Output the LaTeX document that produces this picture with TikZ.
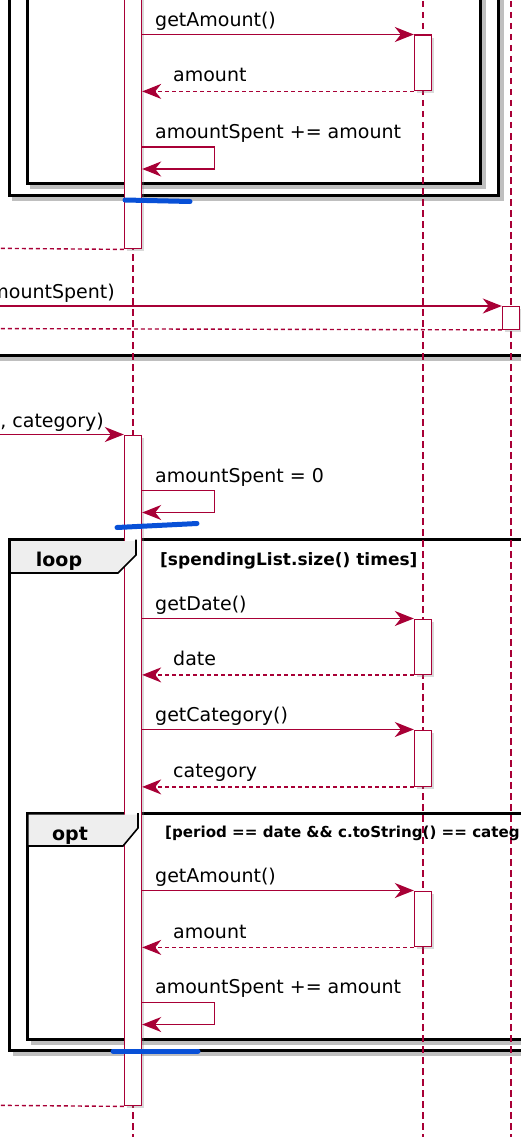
\documentclass[tikz,border=0pt]{standalone}
\usepackage{fontspec}
\setmainfont{DejaVu Sans}
\usetikzlibrary{arrows.meta,shadows}
\definecolor{seqred}{HTML}{A80036}
\definecolor{tabgray}{HTML}{EEEEEE}
\definecolor{markblue}{RGB}{8,80,215}
\begin{document}
\begin{tikzpicture}[x=1pt,y=-1pt,
	msg/.style={seqred,line width=1.4pt,-{Stealth[length=19pt,width=15pt,inset=6pt]}},
	ret/.style={msg,dash pattern=on 4pt off 3pt},
	life/.style={seqred,line width=1.6pt,dash pattern=on 6.5pt off 4.5pt},
	bar/.style={draw=seqred,fill=white,line width=1.4pt,minimum width=17pt,inner sep=0pt,anchor=north,
		drop shadow={shadow xshift=2.5pt,shadow yshift=-2.5pt,opacity=0.3}},
	frame/.style={line width=3pt},
	shade/.style={black!25,line width=4.5pt},
	tabline/.style={line width=1.6pt,line join=miter},
	lbl/.style={anchor=base west,inner sep=0pt,font=\fontsize{19}{22}\selectfont},
	guard/.style={anchor=base west,inner sep=0pt,font=\fontsize{17}{20}\selectfont\bfseries},
	tabtxt/.style={anchor=base,inner sep=0pt,font=\fontsize{19}{22}\selectfont\bfseries},
	hilite/.style={markblue,line width=5pt,line cap=round}]
\useasboundingbox (0,0) rectangle (521,1137);
\clip (0,0) rectangle (521,1137);
\draw[shade] (12,198.5) -- (501.5,198.5) -- (501.5,-10);
\draw[shade] (30,186.5) -- (483.5,186.5) -- (483.5,-10);
\draw[shade] (-5,358.5) -- (530,358.5);
\draw[shade] (13,1053.5) -- (530,1053.5);
\draw[shade] (30.5,1042.5) -- (530,1042.5);
\draw[frame] (9,-10) -- (9,195) -- (498,195) -- (498,-10);
\draw[frame] (27,-10) -- (27,183) -- (480,183) -- (480,-10);
\draw[frame] (-5,355) -- (530,355);
\draw[frame] (530,539.5) -- (9.5,539.5) -- (9.5,1050) -- (530,1050);
\draw[frame] (530,813) -- (27,813) -- (27,1039) -- (530,1039);
\foreach \x/\n in {133/A,423/B,511/C} {
	\coordinate (\n0) at (\x,-10);
	\coordinate (\n9) at (\x,1150);
	\draw[life] (\n0) -- (\n9);
}
\node[bar,minimum height=258pt] (A1) at (133,-10) {};
\node[bar,minimum height=670.5pt] (A2) at (133,434.5) {};
\node[bar,minimum height=55.5pt] (b1) at (423,34.5) {};
\node[bar,minimum height=22.5pt] (c1) at (511,306) {};
\node[bar,minimum height=55pt] (b2) at (423,618.5) {};
\node[bar,minimum height=56pt] (b3) at (423,729.5) {};
\node[bar,minimum height=55.5pt] (b4) at (423,890.5) {};
\fill[tabgray] (11,541) -- (136,541) -- (136,555) -- (118,573) -- (11,573) -- cycle;
\draw[tabline] (9.5,573) -- (118,573) -- (136,555) -- (136,539.5);
\fill[tabgray] (28.5,814.5) -- (138,814.5) -- (138,828) -- (123,846) -- (28.5,846) -- cycle;
\draw[tabline] (27,846) -- (123,846) -- (138,828) -- (138,813);
\node[tabtxt] (loop) at (59,566.5) {loop};
\node[guard] (g1) at (160,565) {[spendingList.size() times]};
\node[tabtxt] (opt) at (70,840) {opt};
\node[guard,font=\fontsize{15.1}{18}\selectfont\bfseries] (g2) at (165,837.5) {[period == date \&\& c.toString() == categ};
\coordinate (w1) at (-40,248);
\coordinate (w2) at (-40,306);
\coordinate (w3) at (-40,328.5);
\coordinate (w4) at (-40,434.5);
\coordinate (w5) at (-40,1105);
\node[lbl] (l1) at (155,26.5) {getAmount()};
\draw[msg] (A1.east |- b1.north) -- (b1.north west);
\node[lbl] (l2) at (173,82) {amount};
\draw[ret] (b1.south west) -- (A1.east |- b1.south);
\node[lbl] (l3) at (155,138.5) {amountSpent += amount};
\draw[msg] (A1.east |- 0,147) -- ++(72,0) -- ++(0,22) -- ++(-72,0);
\draw[ret] (A1.south west) -- (w1);
\node[lbl,anchor=base east] (l4) at (115,298) {mountSpent)};
\draw[msg] (w2) -- (c1.north west);
\draw[ret] (c1.south west) -- (w3);
\node[lbl,anchor=base east] (l5) at (104,427) {, category)};
\draw[msg] (w4) -- (A2.north west);
\node[lbl] (l6) at (155,482) {amountSpent = 0};
\draw[msg] (A2.east |- 0,490.5) -- ++(72,0) -- ++(0,22) -- ++(-72,0);
\node[lbl] (l7) at (155,610.5) {getDate()};
\draw[msg] (A2.east |- b2.north) -- (b2.north west);
\node[lbl] (l8) at (173,665.5) {date};
\draw[ret] (b2.south west) -- (A2.east |- b2.south);
\node[lbl] (l9) at (155,721.5) {getCategory()};
\draw[msg] (A2.east |- b3.north) -- (b3.north west);
\node[lbl] (l10) at (173,777.5) {category};
\draw[ret] (b3.south west) -- (A2.east |- b3.south);
\node[lbl] (l11) at (155,882.5) {getAmount()};
\draw[msg] (A2.east |- b4.north) -- (b4.north west);
\node[lbl] (l12) at (173,938) {amount};
\draw[ret] (b4.south west) -- (A2.east |- b4.south);
\node[lbl] (l13) at (155,993.5) {amountSpent += amount};
\draw[msg] (A2.east |- 0,1002.5) -- ++(72,0) -- ++(0,22) -- ++(-72,0);
\draw[ret] (A2.south west) -- (w5);
\draw[hilite] (125,200) -- (190,201.5);
\draw[hilite] (117,527.5) -- (197,523.5);
\draw[hilite] (113,1051) -- (198,1051);
\end{tikzpicture}
\end{document}
